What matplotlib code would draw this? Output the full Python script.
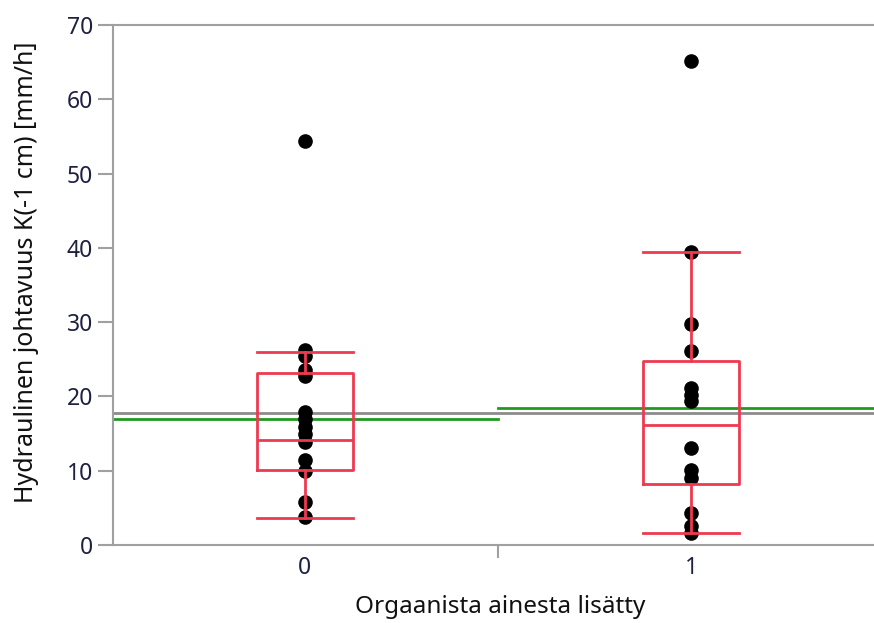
import matplotlib.pyplot as plt

plt.rcParams['font.family'] = ['Noto Sans', 'DejaVu Sans']

groups = [0, 1]
group_labels = ['0', '1']

# measured K(-1 cm) values, mm/h
k_group0 = [54.4, 26.3, 25.4, 23.6, 22.7, 17.9, 16.9, 15.9, 14.9, 13.9,
            11.4, 9.9, 5.8, 3.8]
k_group1 = [65.2, 39.5, 29.7, 26.1, 21.1, 20.2, 19.4, 13.0, 10.1, 9.0,
            4.3, 2.5, 1.6]

# box plot statistics per group
whisker_low = [3.6, 1.6]
q1 = [10.1, 8.2]
median = [14.2, 16.2]
q3 = [23.1, 24.8]
whisker_high = [26.0, 39.4]

group_means = [17.0, 18.5]
grand_mean = 17.8

fig = plt.figure(figsize=(8.74, 6.23), dpi=100)
ax = fig.add_axes([0.1293, 0.1252, 0.8707, 0.8347])

xmin, xmax = -0.497, 1.474
ax.set_xlim(xmin, xmax)
ax.set_ylim(0, 70)

# grand mean and group means
ax.plot([xmin, xmax], [grand_mean, grand_mean], color='#8c8c8c', lw=2, zorder=2)
ax.plot([xmin, 0.5], [group_means[0]] * 2, color='#1f9a1f', lw=2, zorder=2)
ax.plot([0.5, xmax], [group_means[1]] * 2, color='#1f9a1f', lw=2, zorder=2)

for g, vals in zip(groups, [k_group0, k_group1]):
    ax.plot([g] * len(vals), vals, 'o', color='black', ms=9.5, zorder=3)

stats = []
for i in range(len(groups)):
    stats.append({'whislo': whisker_low[i], 'q1': q1[i], 'med': median[i],
                  'q3': q3[i], 'whishi': whisker_high[i]})
red = '#ee3a50'
ax.bxp(stats, positions=groups, widths=0.25, capwidths=0.25,
       showfliers=False, manage_ticks=False, zorder=4,
       boxprops=dict(color=red, lw=2),
       medianprops=dict(color=red, lw=2),
       whiskerprops=dict(color=red, lw=2),
       capprops=dict(color=red, lw=2))

ax.spines['right'].set_visible(False)
for side in ['left', 'bottom', 'top']:
    ax.spines[side].set_color('#a0a0a0')
    ax.spines[side].set_linewidth(1.5)

ax.set_yticks(range(0, 71, 10))
ax.tick_params(axis='y', length=11, width=1.5, color='#a0a0a0',
               labelsize=16.5, labelcolor='#1e2040', pad=3.5)
ax.set_xticks(groups)
ax.set_xticklabels(group_labels)
ax.set_xticks([0.5], minor=True)
ax.tick_params(axis='x', which='major', length=0, labelsize=16.5,
               labelcolor='#1e2040', pad=8)
ax.tick_params(axis='x', which='minor', length=9, width=1.5, color='#a0a0a0')

ax.set_ylabel('Hydraulinen johtavuus K(-1 cm) [mm/h]', fontsize=18,
              color='#111111')
ax.yaxis.set_label_coords(-0.097, 0.525)
ax.set_xlabel('Orgaanista ainesta lisätty', fontsize=17.5, color='#111111')
ax.xaxis.set_label_coords(0.5085, -0.096)

fig.savefig('out.png', dpi=100)
